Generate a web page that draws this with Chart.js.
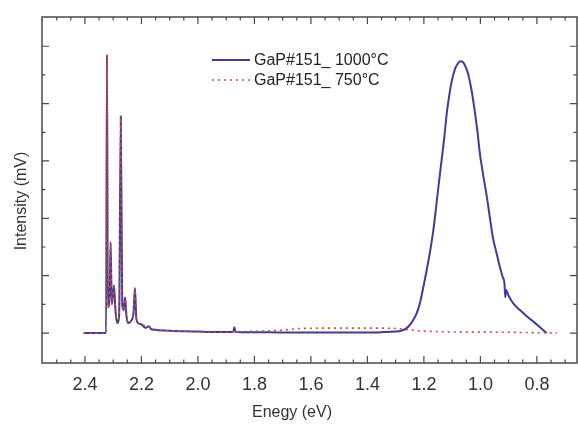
<!DOCTYPE html>
<html>
<head>
<meta charset="utf-8">
<script src="https://cdn.jsdelivr.net/npm/chart.js@4.4.0/dist/chart.umd.min.js"></script>
<style>
  html, body { margin: 0; padding: 0; background: #ffffff; }
</style>
</head>
<body>
<canvas id="myChart" width="578" height="425"></canvas>
<script>
// Values (energy in eV, intensity in tick units)
const energy1000 = [2.405, 2.325, 2.322, 2.319, 2.313, 2.309, 2.305, 2.301, 2.297, 2.292, 2.286, 2.279, 2.273, 2.268, 2.263, 2.258, 2.253, 2.247, 2.235, 2.228, 2.223, 2.218, 2.212, 2.200, 2.185, 2.174, 2.165, 2.14, 2.10, 2.05, 2.00, 1.95, 1.90, 1.875, 1.871, 1.867, 1.85, 1.80, 1.70, 1.60, 1.50, 1.40, 1.35, 1.30, 1.28, 1.26, 1.25, 1.24, 1.225, 1.214, 1.20, 1.19, 1.179, 1.165, 1.154, 1.145, 1.136, 1.127, 1.119, 1.11, 1.101, 1.09, 1.080, 1.071, 1.062, 1.053, 1.044, 1.032, 1.019, 1.01, 1.002, 0.99, 0.977, 0.966, 0.956, 0.943, 0.931, 0.921, 0.915, 0.912, 0.909, 0.90, 0.885, 0.86, 0.835, 0.81, 0.789, 0.775, 0.765];
const intensity1000 = [0, 0, 9.72, 0.9, 1.2, 3.17, 1.0, 1.3, 1.67, 0.8, 0.35, 0.6, 7.56, 1.0, 0.8, 1.25, 0.6, 0.35, 0.45, 0.7, 1.57, 0.5, 0.35, 0.3, 0.18, 0.24, 0.13, 0.1, 0.08, 0.06, 0.05, 0.04, 0.04, 0.04, 0.2, 0.04, 0.03, 0.03, 0.02, 0.02, 0.02, 0.02, 0.03, 0.05, 0.08, 0.18, 0.28, 0.42, 0.7, 1.05, 1.7, 2.2, 2.79, 3.7, 4.63, 5.4, 6.13, 6.9, 7.67, 8.3, 8.8, 9.2, 9.4, 9.48, 9.45, 9.3, 9.06, 8.5, 7.67, 7.0, 6.27, 5.5, 4.74, 4.0, 3.34, 2.8, 2.3, 1.95, 1.75, 1.25, 1.5, 1.3, 1.05, 0.8, 0.58, 0.38, 0.2, 0.08, 0.0];

const energy750 = [2.405, 2.325, 2.322, 2.319, 2.313, 2.309, 2.305, 2.301, 2.297, 2.292, 2.286, 2.279, 2.273, 2.268, 2.263, 2.258, 2.253, 2.247, 2.235, 2.228, 2.223, 2.218, 2.212, 2.200, 2.174, 2.14, 2.10, 2.00, 1.90, 1.80, 1.70, 1.65, 1.55, 1.45, 1.35, 1.30, 1.26, 1.22, 1.15, 1.05, 0.95, 0.85, 0.78, 0.729];
const intensity750 = [0, 0, 9.65, 0.9, 1.2, 3.1, 1.0, 1.3, 1.6, 0.8, 0.35, 0.6, 7.5, 1.0, 0.8, 1.2, 0.6, 0.35, 0.45, 0.7, 1.5, 0.5, 0.35, 0.3, 0.22, 0.1, 0.08, 0.05, 0.05, 0.06, 0.1, 0.15, 0.17, 0.17, 0.17, 0.16, 0.12, 0.08, 0.05, 0.03, 0.03, 0.02, 0.01, 0.0];

const seriesLabels = ['GaP#151_ 1000°C', 'GaP#151_ 750°C'];
const xTickValues = [2.4, 2.2, 2.0, 1.8, 1.6, 1.4, 1.2, 1.0, 0.8];
const xTickLabels = ['2.4', '2.2', '2.0', '1.8', '1.6', '1.4', '1.2', '1.0', '0.8'];
const yTickValues = [0, 1, 2, 3, 4, 5, 6, 7, 8, 9, 10];

const blue = '#3d3d9c';
const red = '#d9453a';
const font = '"Liberation Sans", Arial, sans-serif';

function toPoints(xs, ys){
    return xs.map((x, i) => ({x: x, y: ys[i]}));
}

// Frame, inward ticks, labels, titles and legend
const axesPlugin = {
    id: 'axesPlugin',
    afterDraw(chart){
        const ctx = chart.ctx;
        const a = chart.chartArea;
        const xs = chart.scales.x;
        const ys = chart.scales.y;
        ctx.save();
        ctx.strokeStyle = '#4a4a4a';
        ctx.lineWidth = 1.5;
        ctx.strokeRect(a.left, a.top, a.right - a.left, a.bottom - a.top);

        ctx.lineWidth = 1.2;
        ctx.beginPath();
        // x ticks every 0.05, major every 0.2
        for (let i = 13; i <= 51; i++){
            const px = xs.getPixelForValue(i * 0.05);
            if (px < a.left + 1 || px > a.right - 1) continue;
            const len = (i % 4 === 0) ? 7 : 3.5;
            ctx.moveTo(px, a.bottom); ctx.lineTo(px, a.bottom - len);
            ctx.moveTo(px, a.top); ctx.lineTo(px, a.top + len);
        }
        yTickValues.forEach(v => {
            const py = ys.getPixelForValue(v);
            const len = (v % 2 === 0) ? 7 : 3.5;
            ctx.moveTo(a.left, py); ctx.lineTo(a.left + len, py);
            ctx.moveTo(a.right, py); ctx.lineTo(a.right - len, py);
        });
        ctx.stroke();

        ctx.fillStyle = '#333333';
        ctx.font = '18px ' + font;
        ctx.textAlign = 'center';
        ctx.textBaseline = 'middle';
        xTickValues.forEach((v, i) => {
            ctx.fillText(xTickLabels[i], xs.getPixelForValue(v), 385);
        });

        ctx.font = '16px ' + font;
        ctx.fillText('Enegy (eV)', 292, 413);
        ctx.save();
        ctx.translate(22, 201);
        ctx.rotate(-Math.PI / 2);
        ctx.fillText('Intensity (mV)', 0, 0);
        ctx.restore();

        // legend
        const rows = [60, 80];
        chart.data.datasets.forEach((ds, i) => {
            ctx.save();
            ctx.strokeStyle = ds.borderColor;
            ctx.lineWidth = ds.borderWidth;
            ctx.setLineDash(ds.borderDash || []);
            ctx.beginPath();
            ctx.moveTo(212, rows[i]);
            ctx.lineTo(250, rows[i]);
            ctx.stroke();
            ctx.restore();
            ctx.fillStyle = '#222222';
            ctx.textAlign = 'left';
            ctx.fillText(seriesLabels[i], 254, rows[i] + 1);
        });
        ctx.restore();
    }
};

const ctx = document.getElementById('myChart').getContext('2d');
const myChart = new Chart(ctx, {
    type: 'scatter',
    data: {
        datasets: [{
            label: seriesLabels[0],
            data: toPoints(energy1000, intensity1000),
            showLine: true,
            borderColor: blue,
            borderWidth: 2,
            pointRadius: 0,
            cubicInterpolationMode: 'monotone',
            order: 1
        }, {
            label: seriesLabels[1],
            data: toPoints(energy750, intensity750),
            showLine: true,
            borderColor: red,
            borderWidth: 1.6,
            borderDash: [2, 4],
            pointRadius: 0,
            cubicInterpolationMode: 'monotone',
            order: 0
        }]
    },
    options: {
        responsive: false,
        animation: false,
        layout: {
            padding: {left: 42, top: 17, right: 1, bottom: 62}
        },
        scales: {
            x: {
                type: 'linear',
                reverse: true,
                min: 0.658,
                max: 2.552,
                display: false
            },
            y: {
                min: -1.045,
                max: 11.02,
                display: false
            }
        },
        plugins: {
            legend: {display: false},
            tooltip: {enabled: false}
        }
    },
    plugins: [axesPlugin]
});
</script>
</body>
</html>
